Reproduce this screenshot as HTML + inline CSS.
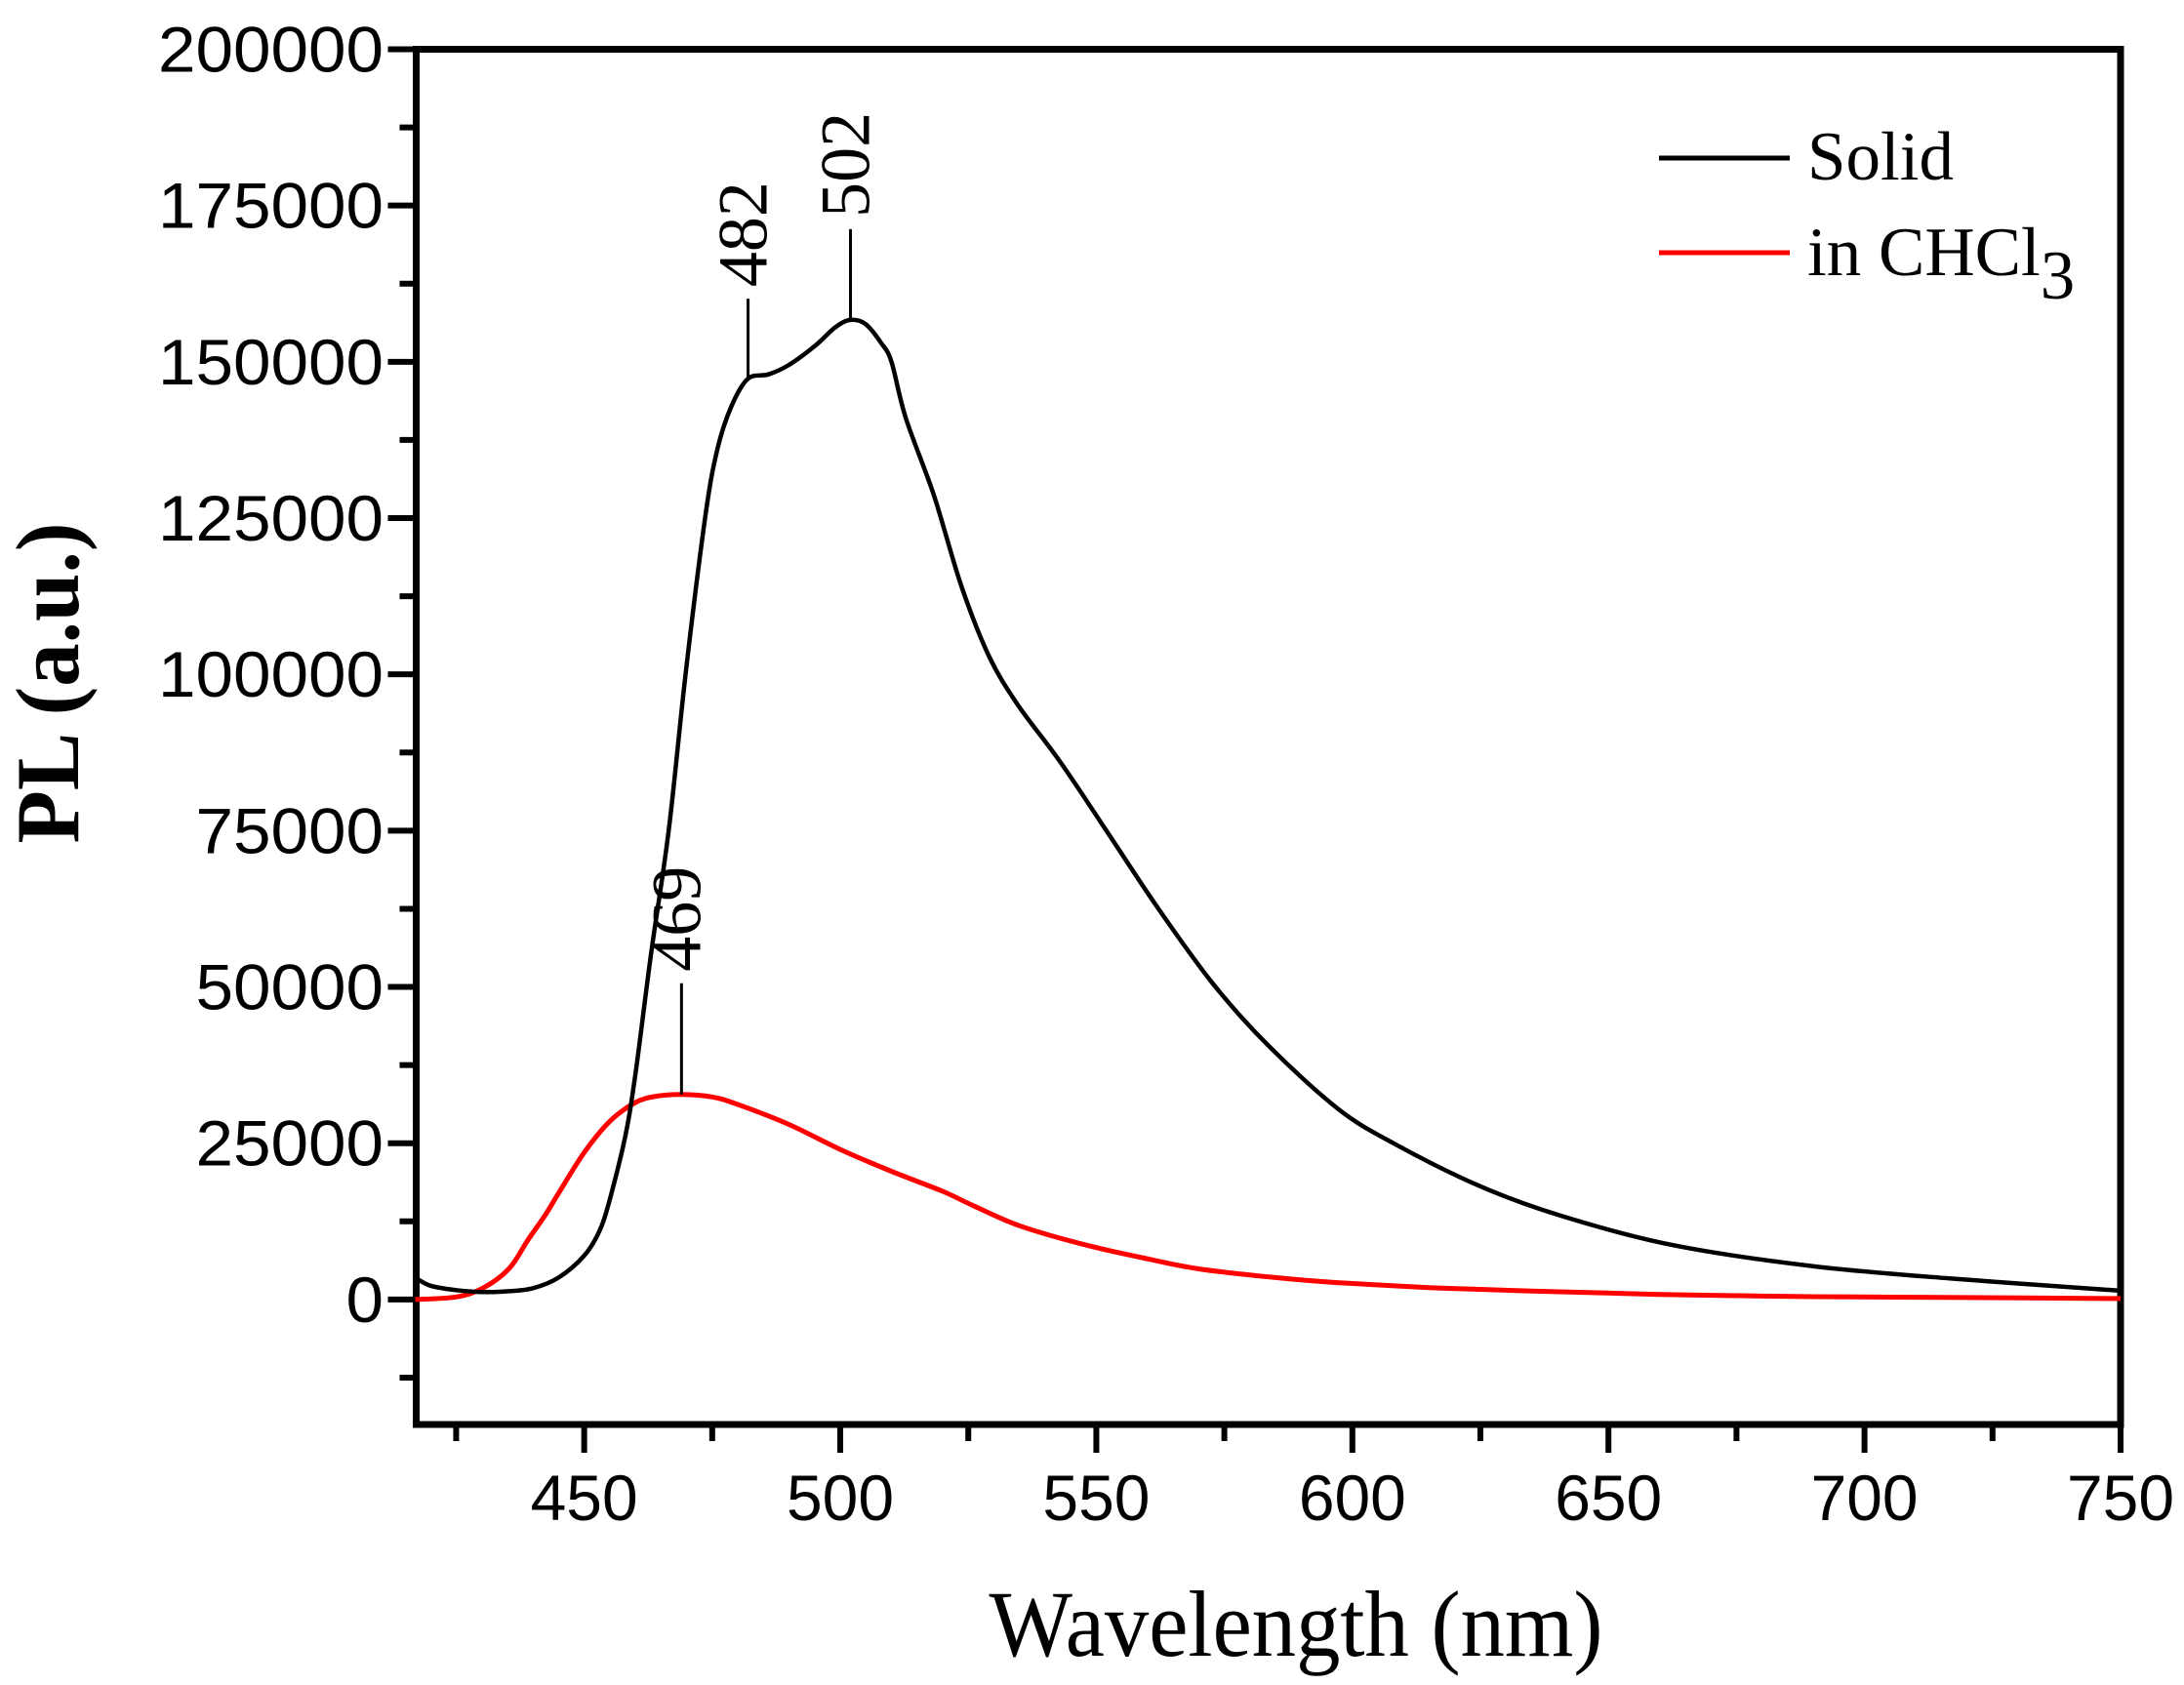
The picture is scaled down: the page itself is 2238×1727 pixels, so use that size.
<!DOCTYPE html>
<html><head><meta charset="utf-8"><style>
html,body{margin:0;padding:0;background:#fff;}
svg{display:block;}
.serif{font-family:"Liberation Serif",serif;}
.sans{font-family:"Liberation Sans",sans-serif;}
</style></head><body>
<svg id="chart" width="2238" height="1727" viewBox="0 0 2238 1727" xmlns="http://www.w3.org/2000/svg">
<g id="axes"></g>
<g id="series"></g>
<g id="annot" style="font-family:'Liberation Serif',serif"></g>
<g>
  <line x1="1700" y1="162" x2="1834" y2="162" stroke="#000" stroke-width="5"/>
  <text class="serif" x="1852" y="184" font-size="71">Solid</text>
  <line x1="1700" y1="259" x2="1834" y2="259" stroke="#f00" stroke-width="5"/>
  <text class="serif" x="1852" y="282" font-size="71">in CHCl<tspan font-size="71" dy="24">3</tspan></text>
</g>
<text class="serif" x="1328" y="1697" text-anchor="middle" font-size="96" textLength="629" lengthAdjust="spacingAndGlyphs">Wavelength (nm)</text>
<text class="serif" transform="translate(80,700) rotate(-90)" text-anchor="middle" font-weight="bold" font-size="92" textLength="329" lengthAdjust="spacingAndGlyphs">PL (a.u.)</text>
</svg>
<script>
const xTicks = [450, 500, 550, 600, 650, 700, 750];
const yTicks = [0, 25000, 50000, 75000, 100000, 125000, 150000, 175000, 200000];
const solidX = [417,420,425,430,435,440,445,450,453,455,458,460,463,466.5,469.8,473.6,476,478.8,482,486,490,495,499,502,505,508,510,512.8,518.3,523.7,529,534.6,542.7,551,561.8,572.7,583.6,597.2,608,624.4,640.7,662.5,689.7,716.9,750];
const solidY = [3500,2200,1500,1200,1300,1800,3500,7000,11000,16000,26000,36000,55000,75000,100000,125000,136000,143000,147300,148000,149500,152500,155500,156700,156000,153000,150000,141000,128600,114000,103000,95200,86300,76200,62900,50600,40600,30500,25000,18300,13400,8700,5350,3350,1400];
const chclX = [417,425,430.4,435.4,439,442.4,445,450,455,460,464,469,475,480,490,500,510,520,526,535,548,560,570,585,597,615,635,660,690,720,750];
const chclY = [0,400,1900,5000,9500,13500,17000,23500,28500,31500,32500,32800,32400,31200,28000,24000,20500,17300,15000,11800,8700,6500,4900,3500,2700,1900,1350,800,450,300,150];
const peakLabels = ["482", "502", "469"];
const peakX = [482, 502, 469];
const peakY = [147300, 156700, 32800];

const L=426.5, R=2173, T=50.5, B=1460;
const X0=417.2, X1=750, Y0=-20000, Y1=200000;
const sx = v => L + (v - X0) / (X1 - X0) * (R - L);
const sy = v => B - (v - Y0) / (Y1 - Y0) * (B - T);
const NS = "http://www.w3.org/2000/svg";
function mk(tag, attrs, parent){const e=document.createElementNS(NS,tag);for(const k in attrs)e.setAttribute(k,attrs[k]);parent.appendChild(e);return e;}
const axes=document.getElementById('axes');
const frame=mk('rect',{x:L,y:T,width:R-L,height:B-T,fill:'none',stroke:'#000','stroke-width':7},axes);


for(let v=425; v<=750; v+=25){
  const major = v%50===0;
  const t=mk('line',{x1:sx(v),x2:sx(v),y1:B,y2:B+(major?29:17),stroke:'#000','stroke-width':6},axes);
  
  
}
xTicks.forEach(v=>{
  const t=mk('text',{class:'sans',x:sx(v),y:1558,'text-anchor':'middle','font-size':66,textLength:110,lengthAdjust:'spacingAndGlyphs'},axes);
  t.textContent=v;
  
  
});
for(let v=-12500; v<=200000; v+=12500){
  const major = v%25000===0;
  const t=mk('line',{x1:L,x2:L-(major?29:17),y1:sy(v),y2:sy(v),stroke:'#000','stroke-width':6},axes);
  
  
}
yTicks.forEach(v=>{
  const s=String(v);
  const t=mk('text',{class:'sans',x:393,y:sy(v)+23,'text-anchor':'end','font-size':66,textLength:38.5*s.length,lengthAdjust:'spacingAndGlyphs'},axes);
  t.textContent=s;
  
  
});
const ser=document.getElementById('series');
function path(xs,ys){
  const p=xs.map((x,i)=>[sx(x),sy(ys[i])]);
  let d='M'+p[0][0].toFixed(1)+','+p[0][1].toFixed(1);
  for(let i=0;i<p.length-1;i++){
    const p0=p[Math.max(0,i-1)],p1=p[i],p2=p[i+1],p3=p[Math.min(p.length-1,i+2)];
    const c1x=p1[0]+(p2[0]-p0[0])/6,c1y=p1[1]+(p2[1]-p0[1])/6;
    const c2x=p2[0]-(p3[0]-p1[0])/6,c2y=p2[1]-(p3[1]-p1[1])/6;
    d+=' C'+c1x.toFixed(1)+','+c1y.toFixed(1)+' '+c2x.toFixed(1)+','+c2y.toFixed(1)+' '+p2[0].toFixed(1)+','+p2[1].toFixed(1);
  }
  return d;
}
const p2=mk('path',{d:path(chclX,chclY),fill:'none',stroke:'#f00','stroke-width':5,'stroke-linejoin':'round'},ser);


const p1=mk('path',{d:path(solidX,solidY),fill:'none',stroke:'#000','stroke-width':4.5,'stroke-linejoin':'round'},ser);


const an=document.getElementById('annot');
const leaderLen=[82,93,114];
peakLabels.forEach((lab,i)=>{
  const x=sx(peakX[i]), y=sy(peakY[i]);
  const ln=mk('line',{x1:x,x2:x,y1:y,y2:y-leaderLen[i],stroke:'#000','stroke-width':3},an);
  
  
  const t=mk('text',{'font-family':'Liberation Serif, serif',transform:`translate(${x+19},${y-leaderLen[i]-12}) rotate(-90)`,'font-size':72},an);
  t.style.fontFamily="'Liberation Serif', serif";
  t.textContent=lab;
  
  
});
</script>
</body></html>
